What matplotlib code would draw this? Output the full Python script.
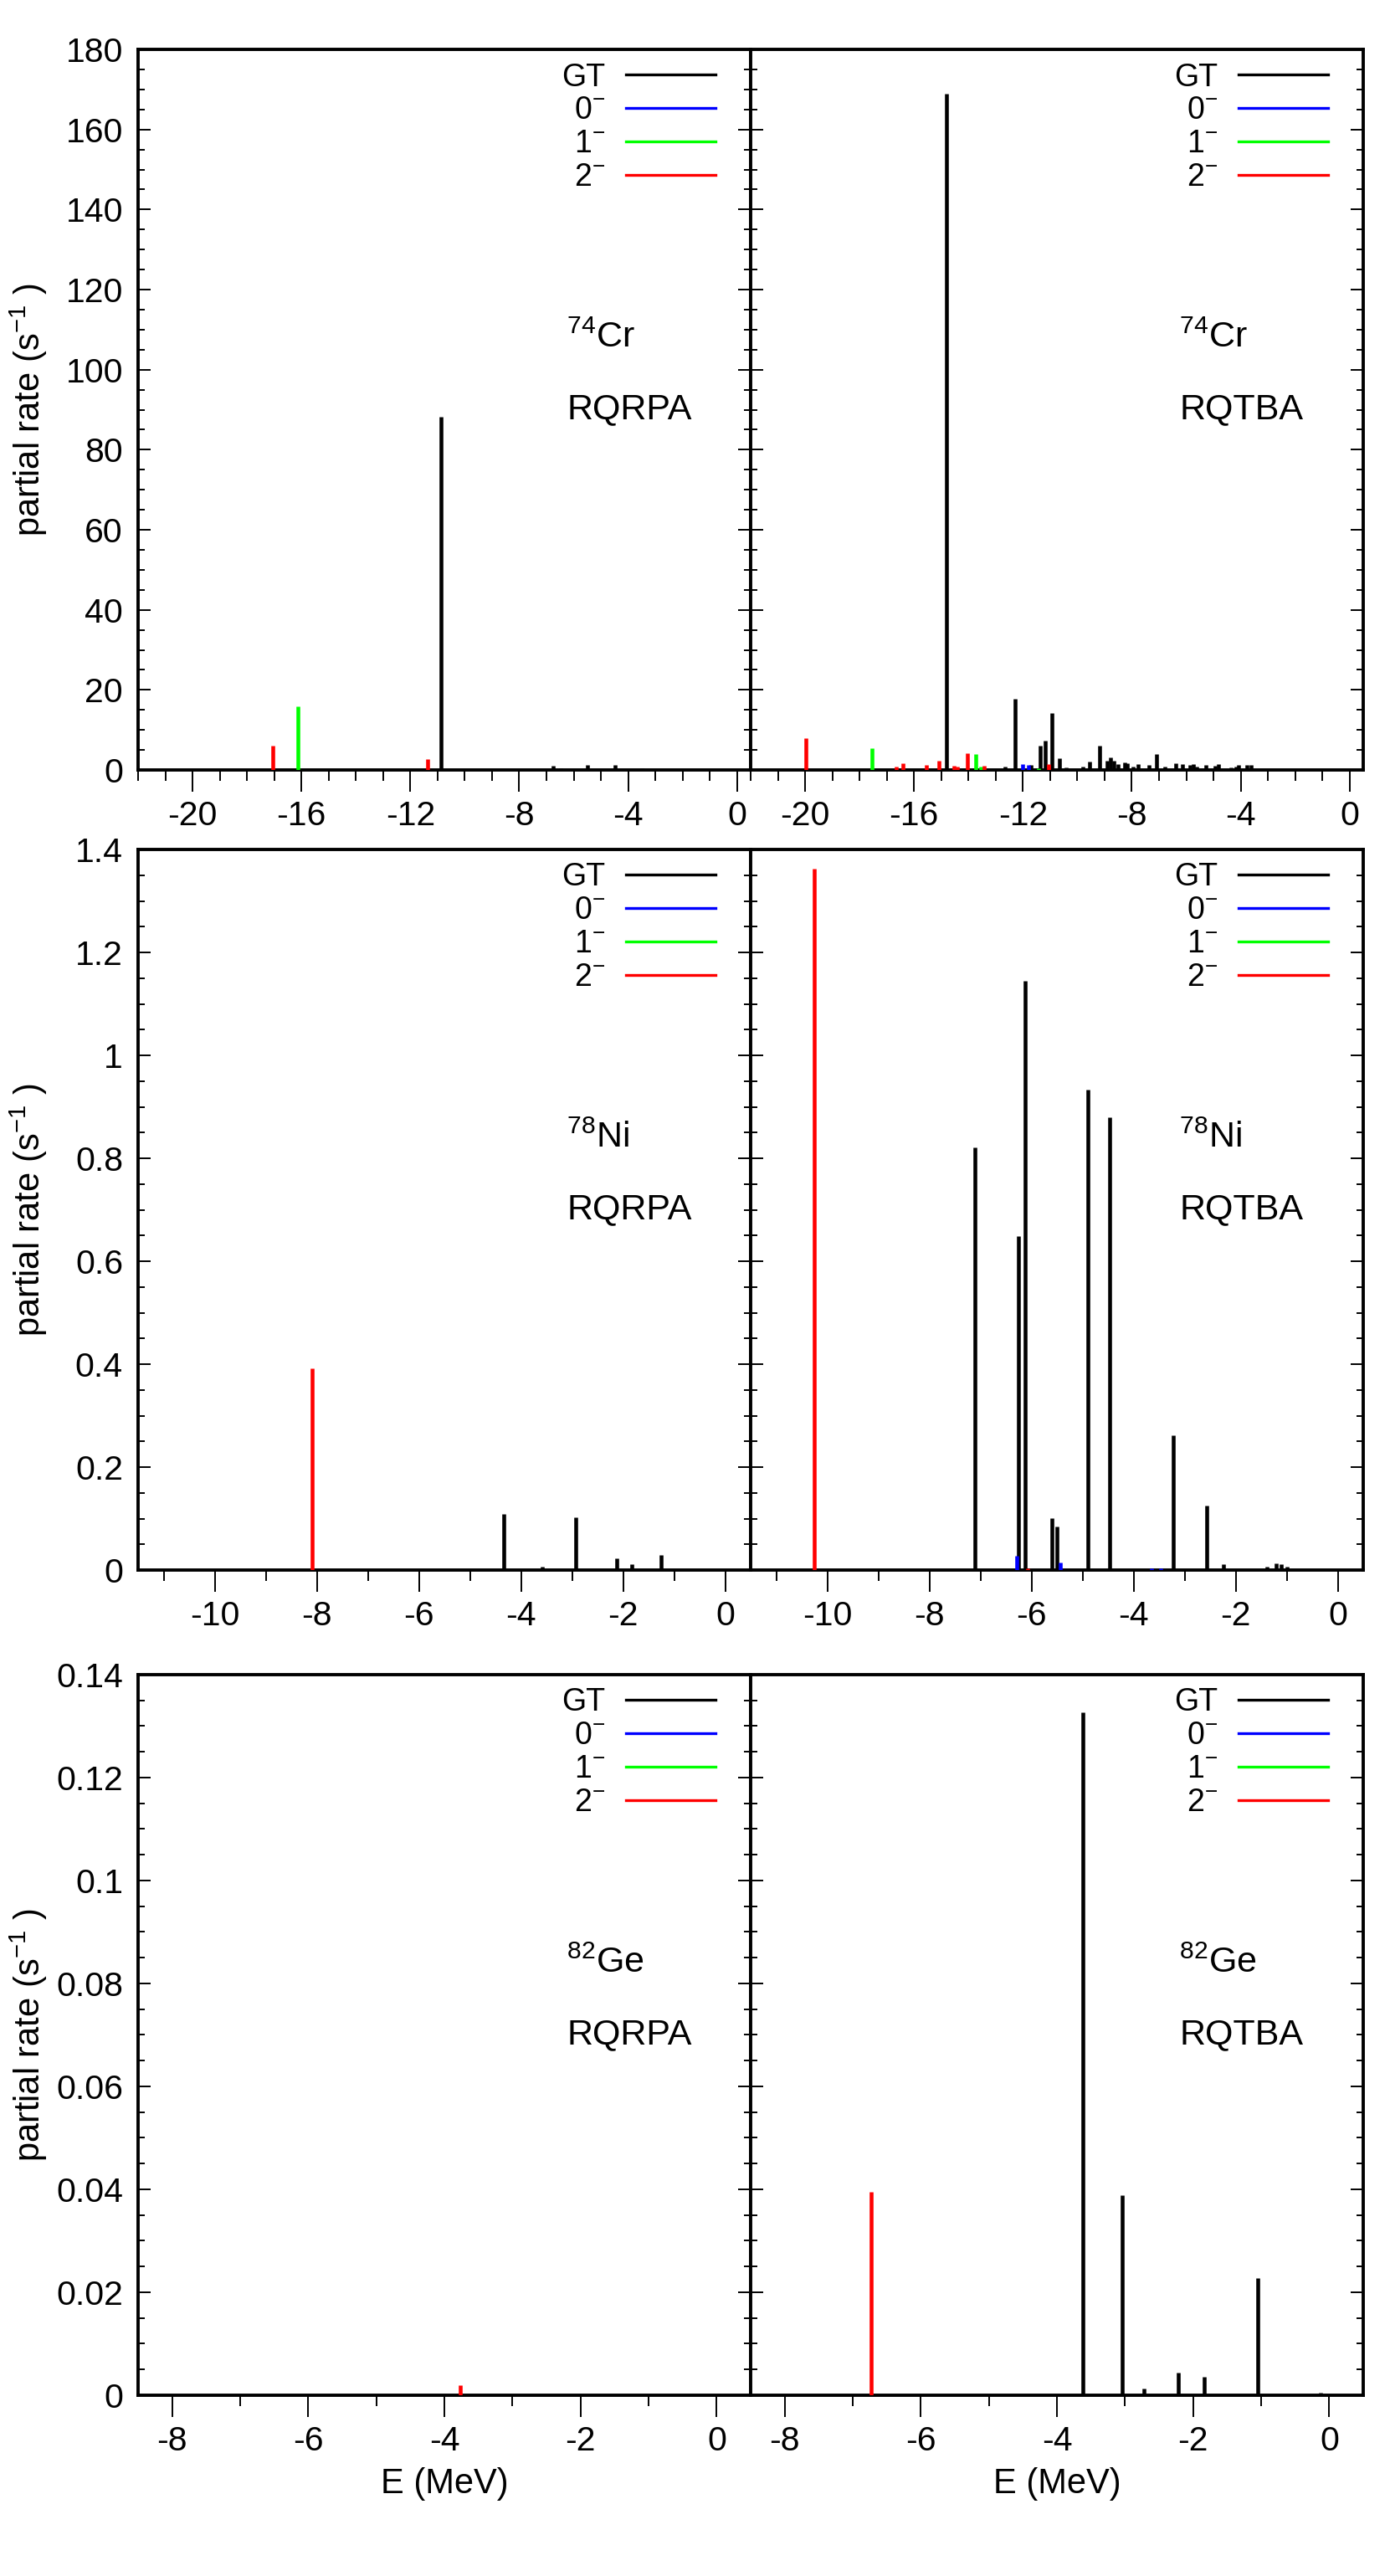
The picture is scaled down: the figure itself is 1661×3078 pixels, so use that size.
import matplotlib
matplotlib.use('Agg')
import matplotlib.pyplot as plt
from matplotlib.ticker import MultipleLocator, FuncFormatter

plt.rcParams['font.family'] = ['Liberation Sans', 'DejaVu Sans']
plt.rcParams['mathtext.fontset'] = 'custom'
plt.rcParams['mathtext.rm'] = 'Liberation Sans'
plt.rcParams['mathtext.it'] = 'Liberation Sans:italic'
plt.rcParams['mathtext.bf'] = 'Liberation Sans:bold'

# ---- data: peak energies (MeV) and partial rates (1/s) ----
# 74Cr RQRPA
cr_qrpa_gt_E = [-10.88, -6.76, -6.47, -5.50, -4.48, -3.49]
cr_qrpa_gt_R = [88.3, 1.0, 0.4, 1.2, 1.2, 0.4]
cr_qrpa_0_E = []
cr_qrpa_0_R = []
cr_qrpa_1_E = [-16.13]
cr_qrpa_1_R = [15.9]
cr_qrpa_2_E = [-17.06, -11.35]
cr_qrpa_2_R = [6.1, 2.8]

# 74Cr RQTBA
cr_qtba_gt_E = [-14.80, -12.67, -12.30, -11.71, -11.35, -11.17, -10.92, -10.67,
                -10.41, -9.80, -9.56, -9.17, -8.92, -8.78, -8.67, -8.51, -8.26,
                -8.18, -7.95, -7.76, -7.38, -7.08, -6.80, -6.38, -6.15, -5.85,
                -5.74, -5.62, -5.27, -4.95, -4.82, -4.36, -4.18, -4.07, -3.77,
                -3.61, -3.08, -2.77]
cr_qtba_gt_R = [169.0, 0.9, 17.8, 1.2, 6.0, 7.3, 14.3, 2.9,
                0.7, 0.8, 2.1, 6.1, 2.4, 3.1, 2.4, 1.4, 1.9,
                1.7, 0.8, 1.4, 1.2, 3.9, 0.8, 1.7, 1.4, 1.2,
                1.4, 0.9, 1.2, 1.0, 1.4, 0.7, 0.9, 1.2, 1.2,
                1.2, 0.3, 0.3]
cr_qtba_0_E = [-12.00, -11.81]
cr_qtba_0_R = [1.4, 1.2]
cr_qtba_1_E = [-17.54, -13.73, -13.55, -11.42]
cr_qtba_1_R = [5.5, 3.9, 0.9, 0.5]
cr_qtba_2_E = [-19.96, -16.66, -16.42, -15.54, -15.08, -14.54, -14.40, -14.04, -13.42, -11.05]
cr_qtba_2_R = [8.0, 0.8, 1.7, 1.3, 2.4, 1.0, 0.8, 4.1, 1.0, 1.4]

# 78Ni RQRPA
ni_qrpa_gt_E = [-4.33, -3.58, -2.92, -2.13, -1.82, -1.26]
ni_qrpa_gt_R = [0.109, 0.007, 0.103, 0.022, 0.012, 0.029]
ni_qrpa_0_E = []
ni_qrpa_0_R = []
ni_qrpa_1_E = []
ni_qrpa_1_R = []
ni_qrpa_2_E = [-8.09]
ni_qrpa_2_R = [0.392]

# 78Ni RQTBA
ni_qtba_gt_E = [-7.11, -6.26, -6.13, -5.60, -5.50, -4.89, -4.46, -3.22, -2.56,
                -2.23, -1.38, -1.20, -1.11, -0.99]
ni_qtba_gt_R = [0.821, 0.649, 1.145, 0.101, 0.085, 0.933, 0.880, 0.261, 0.125,
                0.012, 0.006, 0.013, 0.012, 0.007]
ni_qtba_0_E = [-6.29, -5.43, -3.65, -3.46]
ni_qtba_0_R = [0.027, 0.015, 0.003, 0.003]
ni_qtba_1_E = []
ni_qtba_1_R = []
ni_qtba_2_E = [-10.25, -6.07]
ni_qtba_2_R = [1.363, 0.004]

# 82Ge RQRPA
ge_qrpa_gt_E = [-0.45]
ge_qrpa_gt_R = [0.0002]
ge_qrpa_0_E = []
ge_qrpa_0_R = []
ge_qrpa_1_E = []
ge_qrpa_1_R = []
ge_qrpa_2_E = [-3.77]
ge_qrpa_2_R = [0.0019]

# 82Ge RQTBA
ge_qtba_gt_E = [-3.62, -3.04, -2.72, -2.22, -1.84, -1.05, -0.13]
ge_qtba_gt_R = [0.1327, 0.0389, 0.0013, 0.0044, 0.0036, 0.0228, 0.0005]
ge_qtba_0_E = []
ge_qtba_0_R = []
ge_qtba_1_E = []
ge_qtba_1_R = []
ge_qtba_2_E = [-6.73]
ge_qtba_2_R = [0.0395]

channel_labels = ['GT', '0$^{-}$', '1$^{-}$', '2$^{-}$']
channel_colors = ['#000000', '#0000ff', '#00ff00', '#ff0000']

nuclei = ['$^{74}$Cr', '$^{78}$Ni', '$^{82}$Ge']
methods = ['RQRPA', 'RQTBA']
xlims = [(-22, 0.5), (-11.5, 0.5), (-8.5, 0.5)]
xmajor = [4, 2, 2]
ylims = [(0, 180), (0, 1.4), (0, 0.14)]
ymajor = [20, 0.2, 0.02]
yminor = [5, 0.05, 0.005]

panels = [
    [[(cr_qrpa_gt_E, cr_qrpa_gt_R), (cr_qrpa_0_E, cr_qrpa_0_R), (cr_qrpa_1_E, cr_qrpa_1_R), (cr_qrpa_2_E, cr_qrpa_2_R)],
     [(cr_qtba_gt_E, cr_qtba_gt_R), (cr_qtba_0_E, cr_qtba_0_R), (cr_qtba_1_E, cr_qtba_1_R), (cr_qtba_2_E, cr_qtba_2_R)]],
    [[(ni_qrpa_gt_E, ni_qrpa_gt_R), (ni_qrpa_0_E, ni_qrpa_0_R), (ni_qrpa_1_E, ni_qrpa_1_R), (ni_qrpa_2_E, ni_qrpa_2_R)],
     [(ni_qtba_gt_E, ni_qtba_gt_R), (ni_qtba_0_E, ni_qtba_0_R), (ni_qtba_1_E, ni_qtba_1_R), (ni_qtba_2_E, ni_qtba_2_R)]],
    [[(ge_qrpa_gt_E, ge_qrpa_gt_R), (ge_qrpa_0_E, ge_qrpa_0_R), (ge_qrpa_1_E, ge_qrpa_1_R), (ge_qrpa_2_E, ge_qrpa_2_R)],
     [(ge_qtba_gt_E, ge_qtba_gt_R), (ge_qtba_0_E, ge_qtba_0_R), (ge_qtba_1_E, ge_qtba_1_R), (ge_qtba_2_E, ge_qtba_2_R)]],
]

fig = plt.figure(figsize=(16.61, 30.78), dpi=100)
fig.set_facecolor('white')

col_left = [0.09934, 0.54004]
col_w = 0.44070
row_bottom = [0.70110, 0.39051, 0.07018]
row_h = 0.27973

fmt = FuncFormatter(lambda v, p: '%g' % round(v, 6))

for r in range(3):
    for c in range(2):
        ax = fig.add_axes([col_left[c], row_bottom[r], col_w, row_h])
        handles = []
        for k in range(4):
            E, R = panels[r][c][k]
            if len(E):
                ax.vlines(E, 0, R, color=channel_colors[k], lw=3.3, zorder=3)
            h, = ax.plot([], [], color=channel_colors[k], lw=2.4, label=channel_labels[k])
            handles.append(h)
        ax.set_xlim(*xlims[r])
        ax.set_ylim(*ylims[r])
        ax.xaxis.set_major_locator(MultipleLocator(xmajor[r]))
        ax.xaxis.set_minor_locator(MultipleLocator(1))
        ax.yaxis.set_major_locator(MultipleLocator(ymajor[r]))
        ax.yaxis.set_minor_locator(MultipleLocator(yminor[r]))
        ax.xaxis.set_major_formatter(fmt)
        ax.yaxis.set_major_formatter(fmt)
        for s in ax.spines.values():
            s.set_linewidth(2.8)
        ax.tick_params(axis='x', which='major', direction='out', length=19, width=1.4,
                       top=False, pad=7, labelsize=29.5)
        ax.tick_params(axis='x', which='minor', direction='out', length=9, width=1.4, top=False)
        ax.tick_params(axis='y', which='major', direction='in', length=11, width=1.4,
                       left=True, right=True, pad=13, labelsize=29.5)
        ax.tick_params(axis='y', which='minor', direction='in', length=5.5, width=1.4,
                       left=True, right=True)
        if c == 1:
            ax.tick_params(axis='y', labelleft=False)
        else:
            ax.set_ylabel('partial rate (s$^{-1}$ )', fontsize=30, va='center')
            ax.yaxis.set_label_coords(-0.178, 0.5)
        if r == 2:
            ax.set_xlabel('E (MeV)', fontsize=30, va='center')
            ax.xaxis.set_label_coords(0.5, -0.123)

        ax.legend(handles=handles, loc='upper right', bbox_to_anchor=(0.943, 0.982),
                  markerfirst=False, frameon=False, borderpad=0, borderaxespad=0,
                  handlelength=2.85, handletextpad=0.68, labelspacing=0.1, fontsize=27)
        ax.text(0.70, 0.60, nuclei[r], transform=ax.transAxes, fontsize=31,
                ha='left', va='center')
        ax.text(0.70, 0.50, methods[c], transform=ax.transAxes, fontsize=31,
                ha='left', va='center')

plt.savefig('out.png', dpi=100)
